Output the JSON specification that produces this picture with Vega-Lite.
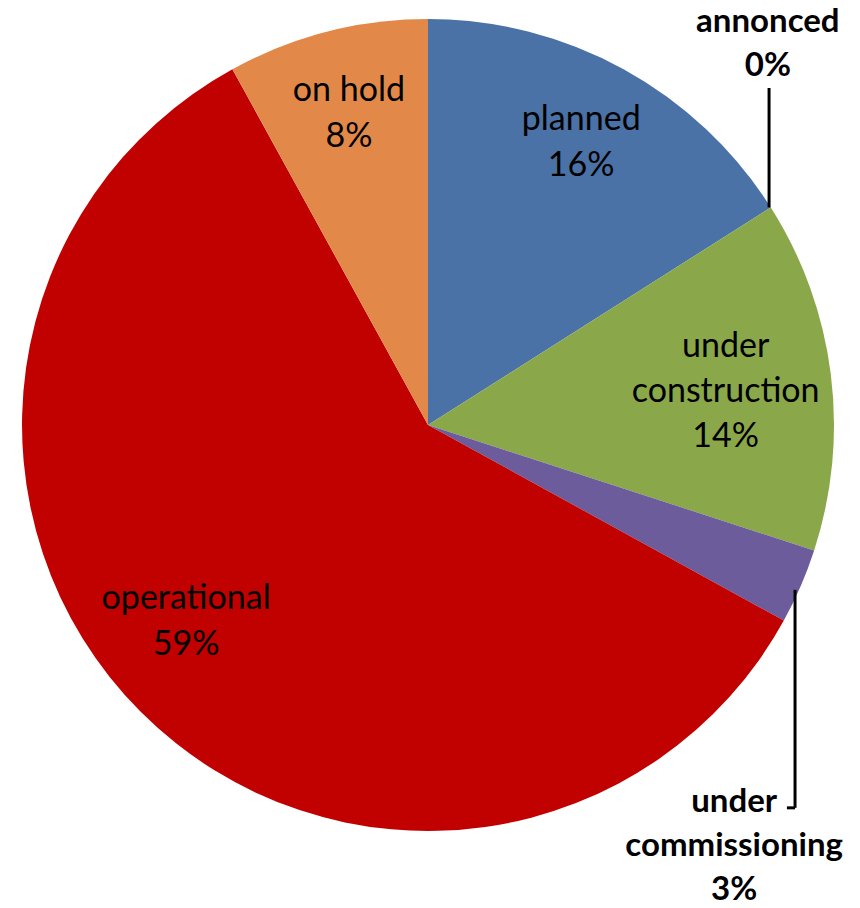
{
  "$schema": "https://vega.github.io/schema/vega-lite/v6.json",
  "width": 860,
  "height": 908,
  "padding": 0,
  "autosize": {"type": "none"},
  "background": "white",
  "config": {"view": {"stroke": null}},
  "datasets": {
    "slices": [
      {"status": "planned", "value": 16, "order": 1, "two": ["planned", "16%"], "three": "", "big": ""},
      {"status": "announced", "value": 0, "order": 2, "two": "", "three": "", "big": ""},
      {"status": "under construction", "value": 14, "order": 3, "two": "", "three": ["under", "construction", "14%"], "big": ""},
      {"status": "under commissioning", "value": 3, "order": 4, "two": "", "three": "", "big": ""},
      {"status": "operational", "value": 59, "order": 5, "two": "", "three": "", "big": ["operational", "59%"]},
      {"status": "on hold", "value": 8, "order": 6, "two": ["on hold", "8%"], "three": "", "big": ""}
    ],
    "callouts": [
      {"status": "announced", "x": 0.837, "y": 0.993, "text": ["annonced", "0%"]},
      {"status": "under commissioning", "x": 0.754, "y": -0.9286, "text": ["under", "commissioning", "3%"]}
    ],
    "leaders": [
      {"status": "announced", "x": 0.84, "y": 0.536, "x2": 0.84, "y2": 0.83},
      {"status": "under commissioning", "x": 0.904, "y": -0.406, "x2": 0.904, "y2": -0.943},
      {"status": "under commissioning", "x": 0.884, "y": -0.943, "x2": 0.904, "y2": -0.943}
    ]
  },
  "layer": [
    {
      "data": {"name": "slices"},
      "mark": {"type": "arc", "outerRadius": 406, "stroke": null},
      "encoding": {
        "x": {"datum": 0, "type": "quantitative", "scale": {"domain": [-1.0542, 1.064], "nice": false, "zero": false}, "axis": null},
        "y": {"datum": 0, "type": "quantitative", "scale": {"domain": [-1.1897, 1.0468], "nice": false, "zero": false}, "axis": null},
        "theta": {"field": "value", "type": "quantitative", "stack": true},
        "order": {"field": "order", "type": "quantitative"},
        "color": {
          "field": "status",
          "type": "nominal",
          "legend": null,
          "scale": {
            "domain": ["planned", "announced", "under construction", "under commissioning", "operational", "on hold"],
            "range": ["#4a72a6", "#4f81bd", "#8aa84a", "#6d5c9b", "#c10000", "#e2894a"]
          }
        }
      }
    },
    {
      "data": {"name": "slices"},
      "mark": {"type": "text", "radius": 318, "dy": -26, "font": "Lato", "fontSize": 34, "lineHeight": 46, "color": "#000000", "align": "center", "baseline": "middle"},
      "encoding": {
        "x": {"datum": 0, "type": "quantitative"},
        "y": {"datum": 0, "type": "quantitative"},
        "theta": {"field": "value", "type": "quantitative", "stack": true},
        "order": {"field": "order", "type": "quantitative"},
        "text": {"field": "two"}
      }
    },
    {
      "data": {"name": "slices"},
      "mark": {"type": "text", "radius": 318, "dx": -17, "dy": -51, "font": "Lato", "fontSize": 34, "lineHeight": 46, "color": "#000000", "align": "center", "baseline": "middle"},
      "encoding": {
        "x": {"datum": 0, "type": "quantitative"},
        "y": {"datum": 0, "type": "quantitative"},
        "theta": {"field": "value", "type": "quantitative", "stack": true},
        "order": {"field": "order", "type": "quantitative"},
        "text": {"field": "big"}
      }
    },
    {
      "data": {"name": "slices"},
      "mark": {"type": "text", "radius": 300, "dy": -40, "font": "Lato", "fontSize": 34, "lineHeight": 45, "color": "#000000", "align": "center", "baseline": "middle"},
      "encoding": {
        "x": {"datum": 0, "type": "quantitative"},
        "y": {"datum": 0, "type": "quantitative"},
        "theta": {"field": "value", "type": "quantitative", "stack": true},
        "order": {"field": "order", "type": "quantitative"},
        "text": {"field": "three"}
      }
    },
    {
      "data": {"name": "leaders"},
      "mark": {"type": "rule", "color": "#000000", "strokeWidth": 3},
      "encoding": {
        "x": {"field": "x", "type": "quantitative"},
        "y": {"field": "y", "type": "quantitative"},
        "x2": {"field": "x2"},
        "y2": {"field": "y2"}
      }
    },
    {
      "data": {"name": "callouts"},
      "mark": {"type": "text", "font": "Lato", "fontSize": 33, "fontWeight": "bold", "lineHeight": 44, "color": "#000000", "align": "center", "baseline": "middle"},
      "encoding": {
        "x": {"field": "x", "type": "quantitative"},
        "y": {"field": "y", "type": "quantitative"},
        "text": {"field": "text"}
      }
    }
  ]
}
